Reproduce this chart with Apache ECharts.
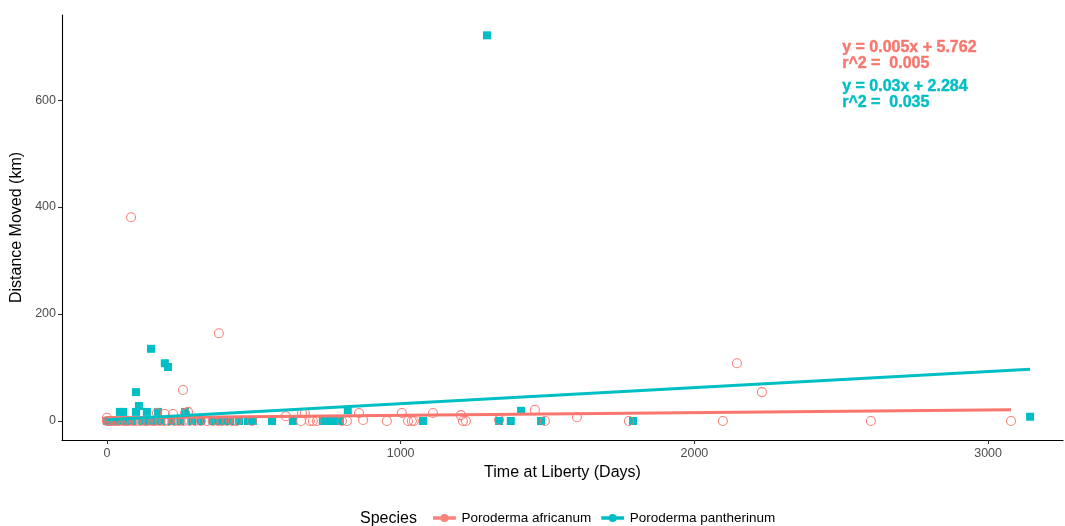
<!DOCTYPE html>
<html>
<head>
<meta charset="utf-8">
<title>Shark movement vs time at liberty</title>
<script src="https://cdn.jsdelivr.net/npm/echarts@6/dist/echarts.min.js"></script>
<style>
  html, body { margin: 0; padding: 0; background: #fff; }
  #chart { width: 1065px; height: 526px; }
</style>
</head>
<body>
<div id="chart"></div>
<script>
// Recaptures: [days at liberty, distance moved in km]
const africanum = [
  [82, 381], [381, 164], [259, 58], [2145, 108], [2230, 54], [1457, 21],
  [1004, 15], [1110, 15], [858, 15], [1600, 7], [1205, 11], [609, 9],
  [664, 15], [674, 15], [0, 6], [170, 15], [197, 13], [225, 13], [266, 15],
  [276, 17], [872, 2], [1335, 2],
  [0, 0], [5, 0], [12, 0], [20, 0], [30, 0], [40, 0], [55, 0], [65, 0],
  [75, 0], [90, 0], [100, 0], [115, 0], [130, 0], [140, 0], [155, 0],
  [165, 0], [180, 0], [195, 0], [210, 0], [230, 0], [245, 0], [260, 0],
  [280, 0], [300, 0], [320, 0], [340, 0], [360, 0], [378, 0], [392, 0],
  [409, 0], [429, 0], [442, 0], [494, 0], [661, 0], [691, 0], [701, 0],
  [715, 0], [800, 0], [817, 0], [953, 0], [1025, 0], [1038, 0], [1045, 0],
  [1212, 0], [1222, 0], [1491, 0], [1777, 0], [2097, 0], [2601, 0], [3078, 0]
];
const pantherinum = [
  [1294, 721], [150, 135], [197, 108], [208, 101], [99, 54], [109, 28],
  [44, 17], [55, 17], [99, 17], [136, 17], [174, 17], [266, 17], [820, 20],
  [1410, 19], [3143, 8],
  [0, 0], [10, 0], [25, 0], [35, 0], [50, 0], [60, 0], [70, 0], [85, 0],
  [120, 0], [145, 0], [160, 0], [185, 0], [220, 0], [250, 0], [290, 0],
  [320, 0], [360, 0], [380, 0], [400, 0], [420, 0], [450, 0], [480, 0],
  [497, 0], [562, 0], [633, 0], [735, 0], [750, 0], [765, 0], [780, 0],
  [793, 0], [1076, 0], [1335, 0], [1375, 0], [1478, 0], [1791, 0]
];

// Linear fits per species: slope, intercept, r^2
const fitAfricanum = { slope: 0.005, intercept: 5.762, r2: '0.005' };
const fitPantherinum = { slope: 0.03, intercept: 2.284, r2: '0.035' };

const xTicks = [0, 1000, 2000, 3000];
const yTicks = [0, 200, 400, 600];

const RED = '#F8766D';
const TEAL = '#00BFC4';

function fitLine(points, fit) {
  const xs = points.map(p => p[0]);
  const lo = Math.min(...xs), hi = Math.max(...xs);
  return [lo, hi].map(x => [x, fit.intercept + fit.slope * x]);
}

const legendIcon = 'path://M0,2.5H20V5.5H0Z M13.5,4A3.5,3.5 0 1 1 6.5,4A3.5,3.5 0 1 1 13.5,4Z';

const chart = echarts.init(document.getElementById('chart'), null, { renderer: 'canvas' });
const font = 'Liberation Sans, Arial, Helvetica, sans-serif';
const plain = v => String(v);

const eqStyle = (text, fill) => ({
  text, fill, fontSize: 16, fontWeight: 'bold', fontFamily: font,
  stroke: fill, lineWidth: 0.4
});

chart.setOption({
  animation: false,
  backgroundColor: '#fff',
  textStyle: { fontFamily: font },
  grid: { left: 62, right: 2, top: 15, bottom: 86, outerBoundsMode: 'none', containLabel: false },
  xAxis: {
    type: 'value', min: -153, max: 3255,
    name: 'Time at Liberty (Days)', nameLocation: 'middle', nameGap: 23,
    nameTextStyle: { color: '#000', fontSize: 16, fontFamily: font },
    splitLine: { show: false },
    axisLine: { onZero: false, lineStyle: { color: '#000', width: 1.1 } },
    axisTick: { customValues: xTicks, length: 4, lineStyle: { color: '#333', width: 1.1 } },
    axisLabel: { customValues: xTicks, formatter: plain, color: '#4D4D4D', fontSize: 12.5, margin: 7, fontFamily: font }
  },
  yAxis: {
    type: 'value', min: -35.5, max: 759,
    name: 'Distance Moved (km)', nameLocation: 'middle', nameGap: 33,
    nameTextStyle: { color: '#000', fontSize: 16, fontFamily: font },
    splitLine: { show: false },
    axisLine: { onZero: false, lineStyle: { color: '#000', width: 1.1 } },
    axisTick: { customValues: yTicks, length: 4, lineStyle: { color: '#333', width: 1.1 } },
    axisLabel: { customValues: yTicks, formatter: plain, color: '#4D4D4D', fontSize: 12.5, margin: 6, fontFamily: font }
  },
  legend: {
    left: 428, top: 506, itemWidth: 24, itemHeight: 8, itemGap: 10,
    textStyle: { color: '#000', fontSize: 13.5, fontFamily: font },
    data: [
      { name: 'Poroderma africanum', icon: legendIcon, itemStyle: { color: RED, borderWidth: 0 } },
      { name: 'Poroderma pantherinum', icon: legendIcon, itemStyle: { color: TEAL, borderWidth: 0 } }
    ]
  },
  graphic: [
    { type: 'text', left: 360, top: 511, style: { text: 'Species', fill: '#000', fontSize: 16, fontFamily: font } },
    { type: 'text', left: 842, top: 39.5, style: eqStyle('y = ' + fitAfricanum.slope + 'x + ' + fitAfricanum.intercept, RED) },
    { type: 'text', left: 842, top: 55.5, style: eqStyle('r^2 =  ' + fitAfricanum.r2, RED) },
    { type: 'text', left: 842, top: 78.5, style: eqStyle('y = ' + fitPantherinum.slope + 'x + ' + fitPantherinum.intercept, TEAL) },
    { type: 'text', left: 842, top: 94.5, style: eqStyle('r^2 =  ' + fitPantherinum.r2, TEAL) }
  ],
  series: [
    {
      name: 'Poroderma pantherinum', type: 'scatter', symbol: 'rect', symbolSize: 8, z: 2,
      itemStyle: { color: TEAL, opacity: 1 },
      data: pantherinum
    },
    {
      name: 'Poroderma africanum', type: 'scatter', symbol: 'circle', symbolSize: 9, z: 2,
      itemStyle: { color: 'rgba(0,0,0,0)', borderColor: RED, borderWidth: 1.1, opacity: 0.9 },
      data: africanum
    },
    {
      name: 'Poroderma africanum', type: 'line', showSymbol: false, z: 3,
      lineStyle: { color: RED, width: 3 }, itemStyle: { color: RED },
      data: fitLine(africanum, fitAfricanum)
    },
    {
      name: 'Poroderma pantherinum', type: 'line', showSymbol: false, z: 3,
      lineStyle: { color: TEAL, width: 3 }, itemStyle: { color: TEAL },
      data: fitLine(pantherinum, fitPantherinum)
    }
  ]
});
</script>
</body>
</html>
